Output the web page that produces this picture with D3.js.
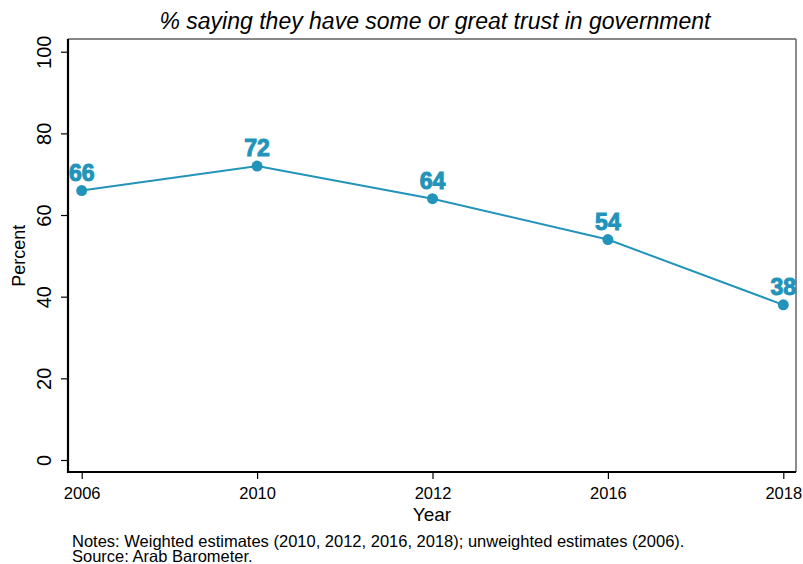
<!DOCTYPE html>
<html>
<head>
<meta charset="utf-8">
<script src="https://cdn.jsdelivr.net/npm/d3@7"></script>
<style>
  body { margin: 0; background: #fff; }
  text { font-family: Helvetica, Arial, "Liberation Sans", sans-serif; }
</style>
</head>
<body>
<div id="chart"></div>
<script>
// Data
const years = ["2006", "2010", "2012", "2016", "2018"];
const trust = [66, 72, 64, 54, 38];
const yTicks = [0, 20, 40, 60, 80, 100];

const W = 803, H = 564;
const frame = {left: 68, right: 796, top: 39, bottom: 472};
const blue = "#2294ba";

const svg = d3.select("#chart").append("svg")
  .attr("width", W).attr("height", H);

// Scales - years are evenly spaced categories
const x = d3.scalePoint()
  .domain(years)
  .range([81.7, 783.3]);

const y = d3.scaleLinear()
  .domain([0, 100])
  .range([460, 51.7]);

// Frame
svg.append("line").attr("x1", frame.left).attr("x2", frame.right)
  .attr("y1", frame.top).attr("y2", frame.top)
  .attr("stroke", "#111").attr("stroke-width", 1);
svg.append("line").attr("x1", frame.right).attr("x2", frame.right)
  .attr("y1", frame.top).attr("y2", frame.bottom)
  .attr("stroke", "#666").attr("stroke-width", 1.5);

// Y axis
const yAxis = svg.append("g")
  .attr("transform", `translate(${frame.left},0)`)
  .call(d3.axisLeft(y).tickValues(yTicks).tickSize(7).tickPadding(0).tickFormat(d3.format("d")));
yAxis.select(".domain").remove();
yAxis.append("line").attr("x1", 0).attr("x2", 0)
  .attr("y1", frame.top).attr("y2", frame.bottom + 1)
  .attr("stroke", "#000").attr("stroke-width", 2.2);
yAxis.selectAll(".tick line").attr("stroke", "#000").attr("stroke-width", 1.2);
yAxis.selectAll(".tick text")
  .attr("fill", "#000")
  .style("font-size", "20px")
  .attr("text-anchor", "middle")
  .attr("dy", 0)
  .attr("transform", "translate(-17,0) rotate(-90)")
  .attr("x", 0)
  .attr("y", 0);

// X axis
const xAxis = svg.append("g")
  .attr("transform", `translate(0,${frame.bottom})`)
  .call(d3.axisBottom(x).tickSize(7).tickPadding(8));
xAxis.select(".domain").remove();
xAxis.append("line").attr("x1", frame.left - 1).attr("x2", frame.right)
  .attr("y1", 0).attr("y2", 0)
  .attr("stroke", "#000").attr("stroke-width", 2.2);
xAxis.selectAll(".tick line").attr("stroke", "#000").attr("stroke-width", 1.2);
xAxis.selectAll(".tick text")
  .attr("fill", "#000")
  .style("font-size", "16.5px");

// Line and points
const pts = years.map((yr, i) => ({year: yr, value: trust[i]}));

svg.append("path")
  .datum(pts)
  .attr("fill", "none")
  .attr("stroke", blue)
  .attr("stroke-width", 2)
  .attr("d", d3.line().x(d => x(d.year)).y(d => y(d.value)));

svg.selectAll("circle.pt")
  .data(pts)
  .enter().append("circle")
  .attr("class", "pt")
  .attr("cx", d => x(d.year))
  .attr("cy", d => y(d.value))
  .attr("r", 5.5)
  .attr("fill", blue);

svg.selectAll("text.lbl")
  .data(pts)
  .enter().append("text")
  .attr("class", "lbl")
  .attr("x", d => x(d.year))
  .attr("y", d => y(d.value) - 10)
  .attr("text-anchor", "middle")
  .attr("fill", blue)
  .attr("stroke", blue)
  .attr("stroke-width", 1)
  .style("font-size", "23px")
  .style("font-weight", "bold")
  .text(d => d.value);

// Titles
svg.append("text")
  .attr("x", 435).attr("y", 29)
  .attr("text-anchor", "middle")
  .style("font-size", "23px")
  .style("font-style", "italic")
  .text("% saying they have some or great trust in government");

svg.append("text")
  .attr("transform", `translate(25,${(y(0) + y(100)) / 2}) rotate(-90)`)
  .attr("text-anchor", "middle")
  .style("font-size", "18px")
  .text("Percent");

svg.append("text")
  .attr("x", 432).attr("y", 521)
  .attr("text-anchor", "middle")
  .style("font-size", "19px")
  .text("Year");

svg.append("text")
  .attr("x", 72).attr("y", 547)
  .style("font-size", "16.5px")
  .text("Notes: Weighted estimates (2010, 2012, 2016, 2018); unweighted estimates (2006).");
svg.append("text")
  .attr("x", 72).attr("y", 562)
  .style("font-size", "16.5px")
  .text("Source: Arab Barometer.");
</script>
</body>
</html>
